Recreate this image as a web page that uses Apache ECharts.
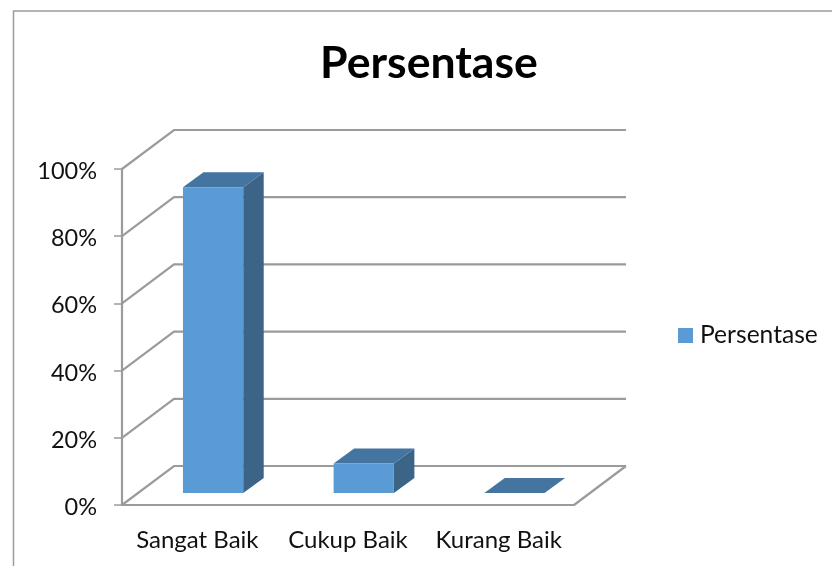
<!DOCTYPE html>
<html>
<head>
<meta charset="utf-8">
<style>html,body{margin:0;padding:0;background:#fff}#c{width:832px;height:566px}</style>
<script src="https://cdn.jsdelivr.net/npm/echarts@6/dist/echarts.min.js"></script>
</head>
<body>
<div id="c"></div>
<script>
const categories = ['Sangat Baik', 'Cukup Baik', 'Kurang Baik'];
const persentase = [91, 8.8, 0];
const tickValues = [0, 20, 40, 60, 80, 100];

const FONT = 'Lato, "Open Sans", sans-serif';
const GREY = '#9b9b9b';
const TEXT = '#111';
const WALL_DX = 52, WALL_DY = 39;   // depth of the chart box
const BAR_INSET_X = 15.75, BAR_INSET_Y = 12; // bar position inside the box depth
const BAR_DX = 20.5, BAR_DY = 15;   // depth of a bar
const GAP = 2.5;                    // band width / bar width

function renderWall(params, api) {
  const r = params.coordSys;
  const v = api.value(0);
  const y = api.coord([0, v])[1];
  const L = r.x, R = r.x + r.width;
  const style = { stroke: GREY, lineWidth: 2.2, fill: null };
  const children = [{
    type: 'polyline',
    shape: { points: [[L, y], [L + WALL_DX, y - WALL_DY], [R + WALL_DX, y - WALL_DY]] },
    style: style
  }];
  if (v === 0) {
    children.push({
      type: 'polyline',
      shape: { points: [[R, y], [R + WALL_DX, y - WALL_DY]] },
      style: style
    });
  }
  return { type: 'group', children: children };
}

function renderBar(params, api) {
  const idx = api.value(0);
  const val = api.value(1);
  const band = params.coordSys.width / categories.length;
  const w = band / GAP;
  const cx = api.coord([idx, 0])[0];
  const x0 = cx - w / 2 + BAR_INSET_X;
  const x1 = x0 + w;
  const yb = api.coord([idx, 0])[1] - BAR_INSET_Y;
  const yt = api.coord([idx, val])[1] - BAR_INSET_Y;
  const poly = (pts, fill) => ({
    type: 'polygon',
    shape: { points: pts },
    style: { fill: fill, stroke: null }
  });
  return {
    type: 'group',
    children: [
      poly([[x1, yb], [x1 + BAR_DX, yb - BAR_DY], [x1 + BAR_DX, yt - BAR_DY], [x1, yt]], '#3b6487'),
      poly([[x0, yt], [x1, yt], [x1 + BAR_DX, yt - BAR_DY], [x0 + BAR_DX, yt - BAR_DY]], '#4475a0'),
      poly([[x0, yb], [x1, yb], [x1, yt], [x0, yt]], '#5b9bd5')
    ]
  };
}

const chart = echarts.init(document.getElementById('c'), null, { renderer: 'canvas' });
chart.setOption({
  animation: false,
  backgroundColor: '#fff',
  title: {
    text: 'Persentase',
    left: 424, top: 36, textAlign: 'center',
    textStyle: { fontFamily: FONT, fontWeight: 'bold', fontSize: 44.6, color: '#000' }
  },
  legend: {
    data: [{ name: 'Persentase', icon: 'rect', itemStyle: { color: '#5b9bd5' } }],
    left: 673, top: 318,
    itemWidth: 15, itemHeight: 15, itemGap: 0,
    textStyle: { fontFamily: FONT, fontSize: 24.6, color: TEXT, padding: [0, 0, 0, 2] }
  },
  grid: { left: 122, top: 169, width: 452, height: 336 },
  xAxis: {
    type: 'category',
    data: categories,
    axisLine: { lineStyle: { color: GREY, width: 2.2 } },
    axisTick: { length: 7, alignWithLabel: false, lineStyle: { color: GREY, width: 1.5 } },
    axisLabel: { fontFamily: FONT, fontSize: 24, color: TEXT, margin: 23, interval: 0 }
  },
  yAxis: {
    type: 'value', min: 0, max: 100, interval: 20,
    splitLine: { show: false },
    axisLine: { show: true, lineStyle: { color: GREY, width: 2.2 } },
    axisTick: { show: true, length: 8, lineStyle: { color: GREY, width: 1.5 } },
    axisLabel: {
      margin: 25,
      formatter: '{t|{value}%}',
      rich: { t: { fontFamily: FONT, fontSize: 23.5, color: TEXT, padding: [5, 0, 0, 0] } }
    }
  },
  series: [
    {
      type: 'custom', name: 'walls', silent: true, clip: false, z: 1,
      renderItem: renderWall,
      data: tickValues.map(v => [v]),
      encode: { y: 0 }
    },
    {
      type: 'custom', name: 'Persentase', clip: false, z: 3,
      itemStyle: { color: '#5b9bd5' },
      renderItem: renderBar,
      data: persentase.map((v, i) => [i, v]),
      encode: { x: 0, y: 1 }
    }
  ],
  graphic: [{
    type: 'polyline',
    shape: { points: [[13.5, 566], [13.5, 11], [832, 11]] },
    style: { stroke: '#9c9c9c', lineWidth: 1.5, fill: null }
  }]
});
</script>
</body>
</html>
